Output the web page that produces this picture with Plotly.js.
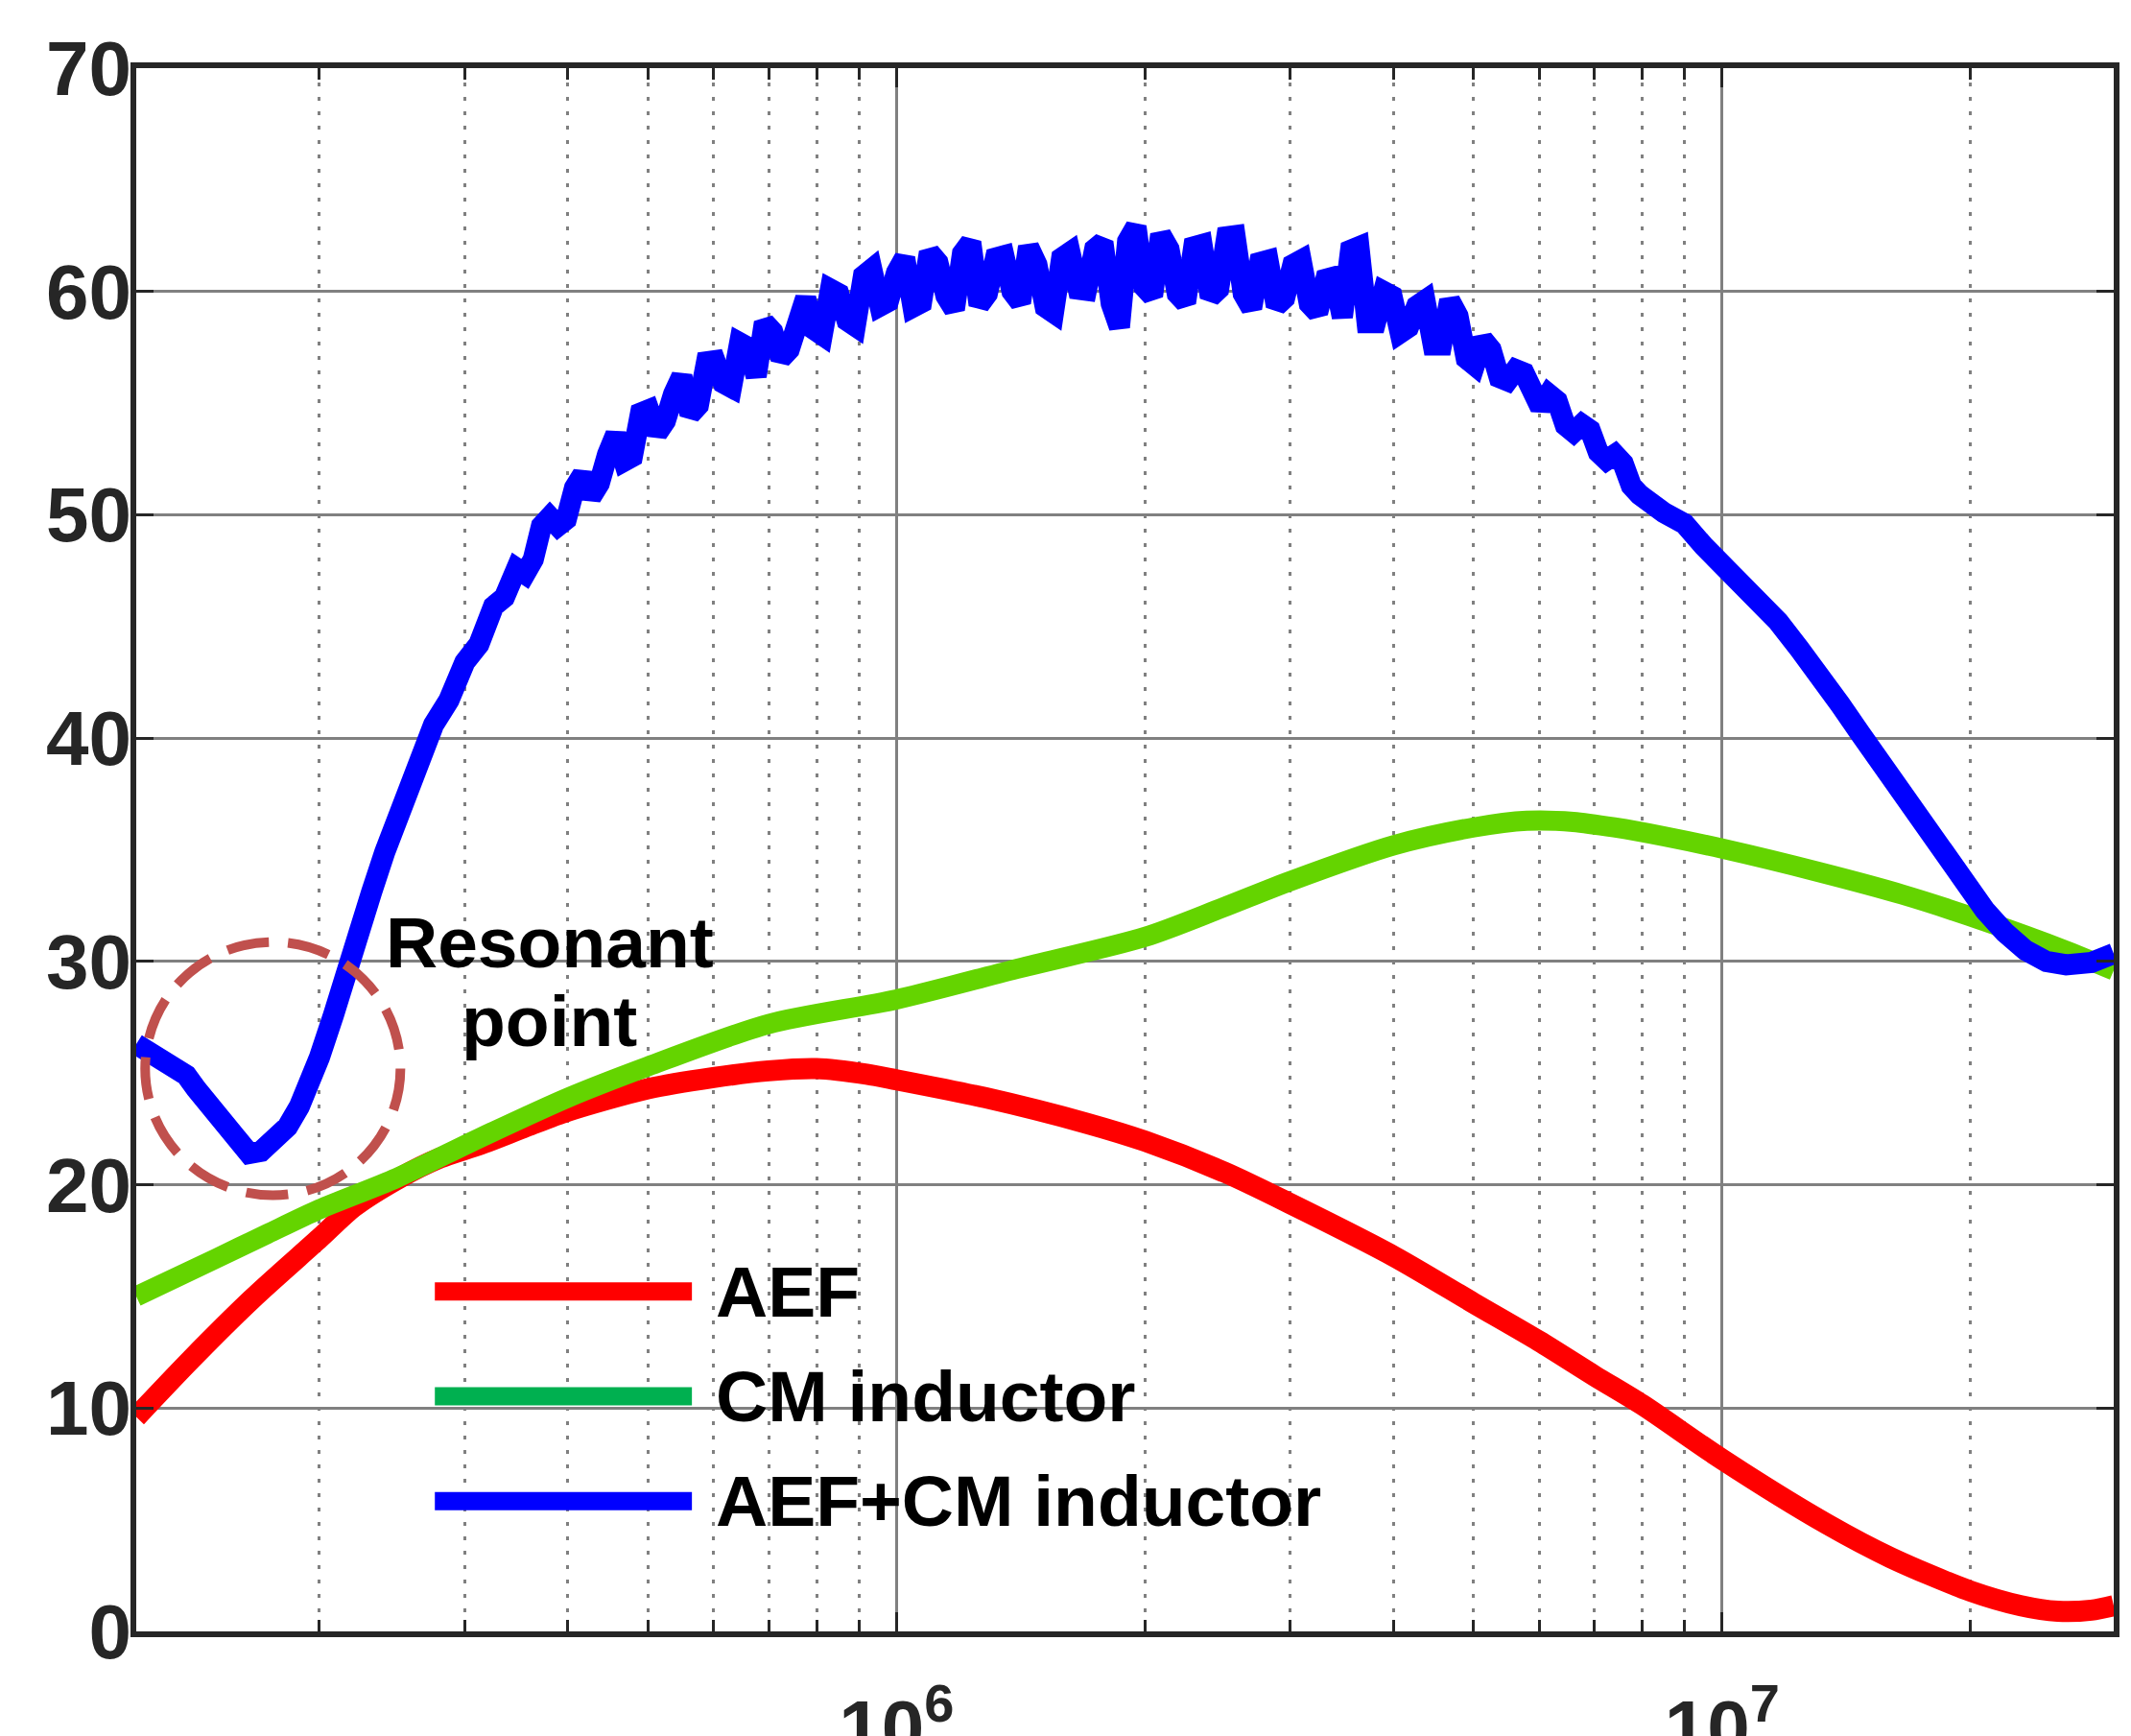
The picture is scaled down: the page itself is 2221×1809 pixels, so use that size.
<!DOCTYPE html>
<html>
<head>
<meta charset="utf-8">
<script src="https://cdn.plot.ly/plotly-3.0.1.min.js"></script>
<style>
  html, body { margin: 0; padding: 0; background: #ffffff; }
  #chart { width: 2221px; height: 1809px; }
</style>
</head>
<body>
<div id="chart"></div>
<script>
// ---------------- data ----------------
// AEF
const aefFreq = [1.2e5, 1.4e5, 1.67e5, 2.0e5, 2.2e5, 2.5e5, 2.8e5, 3.13e5, 3.56e5, 4.0e5,
                 5.0e5, 6.0e5, 7.0e5, 8.0e5, 9.2e5, 1.0e6, 1.28e6, 1.7e6, 2.0e6, 2.5e6,
                 3.0e6, 4.0e6, 5.0e6, 6.0e6, 7.0e6, 8.0e6, 1.0e7, 1.34e7, 1.6e7, 2.0e7,
                 2.3e7, 2.55e7, 2.8e7, 2.98e7];
const aefDb   = [9.6, 12.2, 15.0, 17.6, 19.0, 20.3, 21.2, 21.8, 22.6, 23.3,
                 24.3, 24.8, 25.1, 25.2, 24.95, 24.7, 23.9, 22.75, 21.95, 20.55,
                 19.15, 16.8, 14.7, 13.0, 11.45, 10.15, 7.7, 4.8, 3.3, 1.8,
                 1.15, 0.9, 0.95, 1.15];

// CM inductor
const cmFreq = [1.2e5, 1.5e5, 1.73e5, 2.0e5, 2.48e5, 3.13e5, 4.0e5, 5.0e5, 7.0e5, 1.0e6,
                1.41e6, 2.0e6, 2.48e6, 3.0e6, 4.0e6, 5.0e6, 5.8e6, 6.6e6, 7.4e6, 8.5e6,
                1.0e7, 1.31e7, 1.65e7, 2.08e7, 2.6e7, 2.98e7];
const cmDb   = [15.0, 16.7, 17.8, 18.9, 20.3, 22.1, 23.9, 25.3, 27.2, 28.3,
                29.7, 31.1, 32.4, 33.6, 35.2, 36.0, 36.3, 36.25, 36.0, 35.6,
                35.05, 34.0, 33.0, 31.8, 30.5, 29.6];

// AEF + CM inductor (measured, noisy)
const bothFreq = [1.2e5, 1.27e5, 1.334e5, 1.38e5, 1.418e5, 1.48e5, 1.541e5, 1.60e5, 1.644e5, 1.70e5,
                  1.76e5, 1.83e5, 1.891e5, 1.95e5, 2.0e5, 2.08e5, 2.152e5, 2.23e5, 2.313e5, 2.40e5,
                  2.50e5, 2.57e5, 2.65e5, 2.75e5, 2.87e5, 3.0e5, 3.12e5, 3.25e5, 3.35e5,
                  3.467e5, 3.548e5, 3.631e5, 3.715e5, 3.802e5, 3.890e5, 3.981e5, 4.074e5, 4.169e5, 4.266e5,
                  4.365e5, 4.467e5, 4.571e5, 4.677e5, 4.786e5, 4.898e5, 5.012e5, 5.129e5, 5.248e5, 5.370e5,
                  5.495e5, 5.623e5, 5.754e5, 5.888e5, 6.026e5, 6.166e5, 6.310e5, 6.457e5, 6.607e5, 6.761e5,
                  6.918e5, 7.079e5, 7.244e5, 7.413e5, 7.586e5, 7.762e5, 7.943e5, 8.128e5, 8.318e5, 8.511e5,
                  8.710e5, 8.913e5, 9.120e5, 9.333e5, 9.550e5, 9.772e5, 1.000e6, 1.023e6, 1.047e6, 1.072e6,
                  1.096e6, 1.122e6, 1.148e6, 1.175e6, 1.202e6, 1.230e6, 1.259e6, 1.288e6, 1.318e6, 1.349e6,
                  1.380e6, 1.413e6, 1.445e6, 1.479e6, 1.514e6, 1.549e6, 1.585e6, 1.622e6, 1.660e6, 1.698e6,
                  1.738e6, 1.778e6, 1.820e6, 1.862e6, 1.905e6, 1.950e6, 1.995e6, 2.042e6, 2.089e6, 2.138e6,
                  2.188e6, 2.239e6, 2.291e6, 2.344e6, 2.399e6, 2.455e6, 2.512e6, 2.570e6, 2.630e6, 2.692e6,
                  2.754e6, 2.818e6, 2.884e6, 2.951e6, 3.020e6, 3.090e6, 3.162e6, 3.236e6, 3.311e6, 3.388e6,
                  3.467e6, 3.548e6, 3.631e6, 3.715e6, 3.802e6, 3.890e6, 3.981e6, 4.074e6, 4.169e6, 4.266e6,
                  4.365e6, 4.467e6, 4.571e6, 4.677e6, 4.786e6, 4.898e6, 5.012e6, 5.129e6, 5.248e6, 5.370e6,
                  5.495e6, 5.623e6, 5.754e6, 5.888e6, 6.026e6, 6.166e6, 6.310e6, 6.457e6, 6.607e6, 6.761e6,
                  6.918e6, 7.079e6, 7.244e6, 7.413e6, 7.586e6, 7.762e6, 7.943e6,
                  8.5e6, 9.0e6, 9.5e6, 1.0e7, 1.08e7, 1.17e7, 1.24e7, 1.31e7, 1.39e7, 1.47e7,
                  1.56e7, 1.65e7, 1.75e7, 1.85e7, 1.96e7, 2.08e7, 2.2e7, 2.33e7, 2.47e7, 2.61e7,
                  2.8e7, 2.98e7];
const bothDb   = [26.3, 25.8, 25.2, 24.9, 24.3, 23.4, 22.6, 21.9, 21.4, 21.5,
                  21.9, 22.6, 23.5, 24.5, 25.7, 27.6, 29.6, 31.4, 33.1, 34.9,
                  36.8, 38.0, 39.3, 40.6, 41.7, 43.4, 44.2, 45.9, 46.3,
                  47.6, 47.35, 48.0, 49.5, 49.9, 49.5, 49.8, 51.2, 51.8, 50.8,
                  51.4, 52.7, 53.6, 52.4, 52.6, 54.55, 54.7, 53.65, 54.2, 55.4,
                  56.2, 54.5, 54.9, 56.85, 56.9, 55.9, 55.7, 57.7, 57.5, 56.2,
                  58.6, 58.2, 57.0, 57.4, 59.0, 59.7, 58.3, 58.05, 60.1, 59.9,
                  58.7, 58.45, 60.7, 61.0, 59.35, 59.55, 60.85, 61.5, 59.3, 59.5,
                  61.75, 61.3, 59.8, 59.2, 61.7, 62.2, 59.4, 59.9, 61.5, 61.6,
                  60.0, 59.5, 62.0, 61.2, 59.3, 59.05, 61.5, 61.75, 60.1, 60.05,
                  61.9, 62.2, 59.45, 58.4, 62.25, 62.9, 60.2, 59.8, 62.55, 61.9,
                  59.9, 59.5, 62.0, 62.1, 59.75, 60.1, 62.45, 62.5, 59.9, 59.25,
                  61.3, 61.4, 59.35, 59.7, 61.2, 61.4, 59.45, 59.05, 60.55, 60.65,
                  58.85, 61.85, 62.0, 58.6, 58.6, 60.0, 59.8, 58.15, 58.4, 59.35,
                  59.6, 57.6, 57.6, 59.6, 58.9, 57.0, 56.7, 57.85, 57.4, 56.15,
                  56.0, 56.5, 56.35, 55.2, 54.8, 55.4, 55.1, 54.0, 53.7, 54.05,
                  53.8, 52.8, 52.45, 52.7, 52.3, 51.3, 50.9,
                  50.1, 49.6, 48.6, 47.8, 46.6, 45.2, 44.0, 42.9, 41.5, 40.2,
                  38.8, 37.5, 36.1, 34.8, 33.5, 32.3, 31.3, 30.5, 30.0, 29.85,
                  29.95, 30.35];

// axis ticks and labels
const xMajorTicks = [1e6, 1e7];
const xMajorText  = ['10<sup>6</sup>', '10<sup>7</sup>'];
const xMinorTicks = [2e5, 3e5, 4e5, 5e5, 6e5, 7e5, 8e5, 9e5,
                     2e6, 3e6, 4e6, 5e6, 6e6, 7e6, 8e6, 9e6, 2e7];
const xRange = [1.2e5, 2.98e7];
const yRange = [0, 70];

// legend and annotation texts
const seriesNames  = ['AEF', 'CM inductor', 'AEF+CM inductor'];
const seriesColors = ['#ff0000', '#64d400', '#0000ff'];
const legendColors = ['#ff0000', '#00b050', '#0000ff'];
const noteLines    = ['Resonant', 'point'];

// ---------------- figure ----------------
const FONT = 'Liberation Sans, Arial, Helvetica, sans-serif';
const INK = '#262626';
const GRID = '#808080';

const traces = [
  {x: aefFreq, y: aefDb, name: seriesNames[0], type: 'scatter', mode: 'lines',
   line: {color: seriesColors[0], width: 22, shape: 'spline', smoothing: 0.8}},
  {x: cmFreq, y: cmDb, name: seriesNames[1], type: 'scatter', mode: 'lines',
   line: {color: seriesColors[1], width: 21, shape: 'spline', smoothing: 0.8}},
  {x: bothFreq, y: bothDb, name: seriesNames[2], type: 'scatter', mode: 'lines',
   line: {color: seriesColors[2], width: 22, shape: 'linear'}}
];

// legend with long swatches, in paper coordinates
const legY = [0.2174, 0.1504, 0.0833];
const shapes = [];
const annotations = [];
seriesNames.forEach((nm, i) => {
  shapes.push({type: 'line', xref: 'paper', yref: 'paper',
               x0: 0.151, x1: 0.281, y0: legY[i], y1: legY[i],
               line: {color: legendColors[i], width: 19}});
  annotations.push({xref: 'paper', yref: 'paper', x: 0.2921, y: legY[i],
                    xanchor: 'left', yanchor: 'middle', showarrow: false,
                    text: nm, font: {family: FONT, size: 75, color: '#000000', weight: 700}});
});

// dashed ellipse around the resonant point
shapes.push({type: 'circle', xref: 'paper', yref: 'paper',
             x0: 0.0045, x1: 0.1336, y0: 0.279, y1: 0.441,
             line: {color: '#c0504d', width: 10, dash: '44px,20px'}});

annotations.push({xref: 'paper', yref: 'paper', x: 0.209, y: 0.4408,
                  xanchor: 'center', yanchor: 'middle', showarrow: false,
                  text: noteLines[0], font: {family: FONT, size: 75, color: '#000000', weight: 700}});
annotations.push({xref: 'paper', yref: 'paper', x: 0.209, y: 0.3904,
                  xanchor: 'center', yanchor: 'middle', showarrow: false,
                  text: noteLines[1], font: {family: FONT, size: 75, color: '#000000', weight: 700}});

const layout = {
  width: 2221, height: 1809,
  margin: {l: 142, r: 18, t: 71, b: 109, pad: 0},
  paper_bgcolor: '#ffffff', plot_bgcolor: '#ffffff',
  showlegend: false,
  xaxis: {
    type: 'log', range: xRange.map(Math.log10), automargin: false,
    tickmode: 'array', tickvals: xMajorTicks, ticktext: xMajorText,
    ticks: 'inside', ticklen: 20, tickwidth: 3, tickcolor: INK,
    showline: true, linewidth: 6, linecolor: INK, mirror: 'allticks',
    showgrid: true, gridcolor: GRID, gridwidth: 3, zeroline: false,
    tickfont: {family: FONT, size: 80, color: INK, weight: 700},
    ticklabelstandoff: 26,
    minor: {tickmode: 'array', tickvals: xMinorTicks, ticks: 'inside', ticklen: 12,
            tickwidth: 3, tickcolor: INK, showgrid: true, gridcolor: GRID,
            gridwidth: 3, griddash: '4px,11px'}
  },
  yaxis: {
    range: yRange, tickmode: 'linear', tick0: 0, dtick: 10, automargin: false,
    ticks: 'inside', ticklen: 18, tickwidth: 3, tickcolor: INK,
    showline: true, linewidth: 6, linecolor: INK, mirror: 'ticks',
    showgrid: true, gridcolor: GRID, gridwidth: 3, zeroline: false,
    tickfont: {family: FONT, size: 80, color: INK, weight: 700},
    ticklabelstandoff: -17
  },
  shapes: shapes,
  annotations: annotations
};

Plotly.newPlot('chart', traces, layout, {displayModeBar: false, staticPlot: true});
</script>
</body>
</html>
